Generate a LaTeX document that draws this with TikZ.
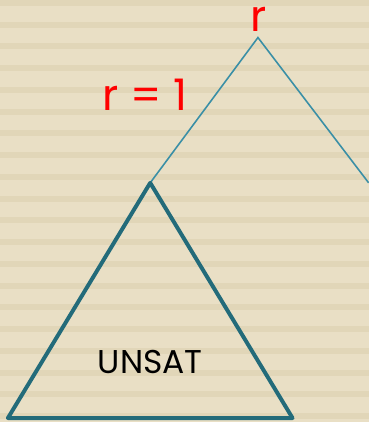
\documentclass[tikz,border=0pt]{standalone}
\usepackage{fontspec}
\setmainfont{Poppins}
\usepackage{tikz}
\usetikzlibrary{positioning}
\definecolor{paper}{RGB}{233,223,197}
\definecolor{stripe}{RGB}{225,214,184}
\definecolor{thinteal}{RGB}{58,143,166}
\definecolor{deepteal}{RGB}{35,107,122}
\definecolor{labelred}{RGB}{255,0,0}

\begin{document}
\begin{tikzpicture}[x=0.75pt,y=-0.75pt,
    edge/.style={draw=thinteal,line width=1.2pt},
    subtree/.style={draw=deepteal,line width=3pt,line join=round},
    lbl/.style={inner sep=0pt,text=labelred,font=\fontsize{33}{33}\selectfont}]
        % background with stripes
        \fill[paper] (0,0) rectangle (373,422);
        \foreach \y in {-5,17,...,417}
          \fill[stripe] (0,\y) rectangle (373,\y+6);
        \useasboundingbox (0,0) rectangle (373,422);

        \coordinate (root) at (261,33);
        \coordinate (child) at (152,180);
        \coordinate (rightend) at (373,180);
        \coordinate (bl) at (8,418);
        \coordinate (br) at (296,418);

        \draw[edge] (child) -- (root) -- (rightend);
        \draw[subtree] (child) -- (br) -- (bl) -- cycle;

        \node[lbl,anchor=base] (rootlbl) at (262,27) {r};
        \node[lbl,anchor=base] (edgelbl) at (147,107) {r = 1};
        \node[inner sep=0pt,anchor=base,font=\fontsize{25}{25}\selectfont] (unsat) at (152,373) {UNSAT};
      \end{tikzpicture}
\end{document}
